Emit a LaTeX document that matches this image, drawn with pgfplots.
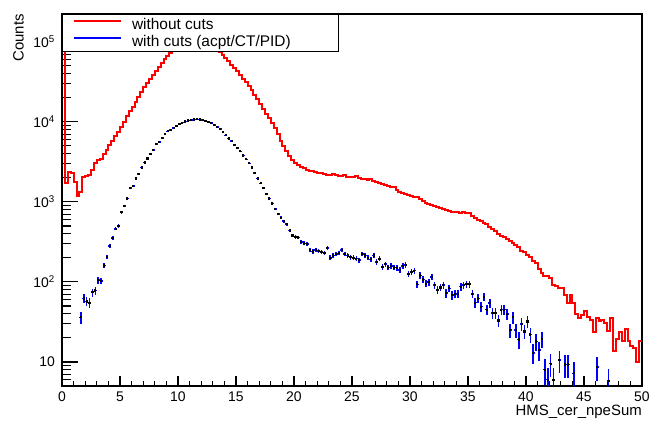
\documentclass[border=0pt]{standalone}
\usepackage{fontspec}
\setmainfont{Liberation Sans}
\usepackage{pgfplots}
\usepackage{pgfplotstable}
\pgfplotsset{compat=1.18}

\pgfplotstableread{
x y
0 150000
0.25 1700
0.5 2340
0.75 2290
1.0 1780
1.25 1190
1.5 1330
1.75 2040
2.0 2090
2.25 2140
2.5 2510
2.75 3090
3.0 3310
3.25 3390
3.5 3980
3.75 4470
4.0 5130
4.25 5750
4.5 6610
4.75 7500
5.0 8510
5.25 10000
5.5 11750
5.75 13500
6.0 15500
6.25 17800
6.5 20400
6.75 23400
7.0 26900
7.25 30200
7.5 34700
7.75 38900
8.0 43600
8.25 49000
8.5 55000
8.75 60300
9.0 66100
9.25 72400
9.5 77600
9.75 83200
10.0 89100
10.25 93300
10.5 97700
10.75 101000
11.0 103500
11.25 104700
11.5 104700
11.75 103500
12.0 101200
12.25 97700
12.5 94400
12.75 90200
13.0 85100
13.25 79400
13.5 74100
13.75 68400
14.0 63100
14.25 57500
14.5 51900
14.75 47300
15.0 42700
15.25 38500
15.5 34700
15.75 31600
16.0 28200
16.25 25100
16.5 21900
16.75 19100
17.0 16600
17.25 14500
17.5 12600
17.75 11200
18.0 9770
18.25 8320
18.5 7080
18.75 5750
19.0 5010
19.25 4370
19.5 3720
19.75 3310
20.0 3020
20.25 2850
20.5 2690
20.75 2630
21.0 2510
21.25 2450
21.5 2400
21.75 2340
22.0 2290
22.25 2260
22.5 2210
22.75 2190
23.0 2160
23.25 2240
23.5 2140
23.75 2110
24.0 2090
24.25 2140
24.5 2070
24.75 2040
25.0 2070
25.25 2090
25.5 1970
25.75 1930
26.0 1910
26.25 1880
26.5 1910
26.75 1820
27.0 1760
27.25 1700
27.5 1660
27.75 1600
28.0 1570
28.25 1530
28.5 1510
28.75 1410
29.0 1330
29.25 1290
29.5 1260
29.75 1220
30.0 1170
30.25 1140
30.5 1150
30.75 1080
31.0 1020
31.25 980
31.5 944
31.75 912
32.0 881
32.25 861
32.5 841
32.75 813
33.0 794
33.25 776
33.5 750
33.75 741
34.0 750
34.25 733
34.5 741
34.75 716
35.0 724
35.25 661
35.5 624
35.75 596
36.0 569
36.25 543
36.5 525
36.75 490
37.0 452
37.25 427
37.5 398
37.75 376
38.0 363
38.25 343
38.5 324
38.75 309
39.0 288
39.25 269
39.5 245
39.75 234
40.0 214
40.25 202
40.5 182
40.75 170
41.0 145
41.25 129
41.5 117
41.75 117
42.0 112
42.25 91
42.5 89
42.75 85
43.0 83
43.25 68
43.5 55
43.75 68
44.0 54
44.25 40
44.5 35
44.75 38
45.0 43
45.25 36
45.5 33
45.75 23.5
46.0 35
46.25 32.5
46.5 33
46.75 31
47.0 24
47.25 35.5
47.5 13.8
47.75 19.4
48.0 23.5
48.25 18.5
48.5 25.7
48.75 18.5
49.0 16
49.25 14.8
49.5 10
49.75 18.5
50.0 18.5
}\redtable

\pgfplotstableread{
x y ey
1.625 36 6
1.875 62 7.9
2.125 57 7.5
2.375 55 7.4
2.625 74 8.6
2.875 78 8.8
3.125 105 10.2
3.375 103 10.1
3.625 160 12.6
3.875 205 14.3
4.125 280 16.7
4.375 355 18.8
4.625 460 21.4
4.875 500 22.4
5.125 740 27.2
5.375 890 29.8
5.625 1100 33.2
5.875 1500 38.7
6.125 1580 39.7
6.375 1950 44.2
6.625 2240 47.3
6.875 2690 51.9
7.125 3090 55.6
7.375 3470 58.9
7.625 3980 63.1
7.875 4470 66.9
8.125 5250 72.5
8.375 5620 75
8.625 6300 79.4
8.875 7080 84.1
9.125 7590 87.1
9.375 7870 88.7
9.625 8410 91.7
9.875 8910 94.4
10.125 9350 96.7
10.375 9750 98.7
10.625 10090 100.4
10.875 10370 101.8
11.125 10570 102.8
11.375 10690 103.4
11.625 10720 103.5
11.875 10670 103.3
12.125 10520 102.6
12.375 10280 101.4
12.625 9950 99.7
12.875 9570 97.8
13.125 9120 95.5
13.375 8610 92.8
13.625 8070 89.8
13.875 7500 86.6
14.125 6760 82.2
14.375 6170 78.5
14.625 5750 75.8
14.875 5130 71.6
15.125 4680 68.4
15.375 4270 65.3
15.625 3800 61.6
15.875 3390 58.2
16.125 3020 55
16.375 2690 51.9
16.625 2290 47.9
16.875 1950 44.2
17.125 1700 41.2
17.375 1480 38.5
17.625 1260 35.5
17.875 1100 33.2
18.125 955 30.9
18.375 813 28.5
18.625 708 26.6
18.875 631 25.1
19.125 575 24
19.375 525 22.9
19.625 437 20.9
19.875 380 19.5
20.125 363 19.1
20.375 359 18.9
20.625 316 17.8
20.875 302 17.4
21.125 295 17.2
21.375 251 15.8
21.625 240 15.5
21.875 251 15.8
22.125 245 15.7
22.375 237 15.4
22.625 229 15.1
22.875 263 16.2
23.125 200 14.1
23.375 214 14.6
23.625 224 15
23.875 229 15.1
24.125 251 15.8
24.375 224 15
24.625 214 14.6
24.875 204 14.3
25.125 200 14.1
25.375 195 14
25.625 186 13.6
25.875 224 15
26.125 214 14.6
26.375 200 14.1
26.625 191 13.8
26.875 214 14.6
27.125 178 13.3
27.375 195 14
27.625 155 12.4
27.875 166 12.9
28.125 151 12.3
28.375 158 12.6
28.625 151 12.3
28.875 148 12.2
29.125 141 11.9
29.375 158 12.6
29.625 162 12.7
29.875 126 11.2
30.125 133 11.5
30.375 138 11.7
30.625 93 9.6
30.875 120 11
31.125 107 10.3
31.375 95 9.7
31.625 100 10
31.875 115 10.7
32.125 91 9.5
32.375 79 8.9
32.625 85 9.2
32.875 91 9.5
33.125 72 8.5
33.375 83 9.1
33.625 68 8.2
33.875 71 8.4
34.125 71 8.4
34.375 87 9.3
34.625 91 9.5
34.875 93 9.6
35.125 93 9.6
35.375 71 8.4
35.625 55 7.4
35.875 62 7.9
36.125 49 7
36.375 65 8.1
36.625 45 6.7
36.875 54 7.3
37.125 41 6.4
37.375 41 6.4
37.625 33 5.7
37.875 45 6.7
38.125 45 6.7
38.375 40 6.3
38.625 25 5
38.875 36 6
39.125 25 5
39.375 19 4.4
39.625 30 5.5
39.875 24 4.9
40.125 32 5.7
40.375 22 4.7
40.625 13 3.6
40.875 18 4.2
41.125 14 3.7
41.375 19.5 4.4
41.625 8 2.8
41.875 6 2.4
42.125 9.5 3.1
42.375 6 2.4
42.875 10.5 3.2
43.375 9.3 3
43.625 9.3 3
44.125 7.2 2.7
46.125 8.7 2.9
47.125 5.8 2.4
}\bluetable

\begin{document}
\begin{tikzpicture}
\begin{axis}[
  at={(0,0)}, anchor=south west,
  scale only axis, width=580bp, height=372bp,
  xmin=0, xmax=50,
  ymode=log, ymin=5.0, ymax=2.22e5,
  axis line style={line width=1.2bp},
  every tick/.style={black, line width=1.2bp},
  tick align=inside, tick pos=left,
  major tick length=16bp, minor tick length=9bp,
  xtick style={/pgfplots/major tick length=10bp, /pgfplots/minor tick length=5bp},
  xtick={0,5,...,50},
  xticklabels={0,5,10,15,20,25,30,35,40,45,50},
  minor x tick num=4,
  ytick={10,100,1000,10000,100000},
  yticklabels={10, 10\textsuperscript{2}, 10\textsuperscript{3}, 10\textsuperscript{4}, 10\textsuperscript{5}},
  minor ytick={6,7,8,9,20,30,40,50,60,70,80,90,200,300,400,500,600,700,800,900,2000,3000,4000,5000,6000,7000,8000,9000,20000,30000,40000,50000,60000,70000,80000,90000,200000},
  xticklabel style={font=\fontsize{14}{16}\selectfont, inner sep=0pt, anchor=base, yshift=-15bp},
  yticklabel style={font=\fontsize{14}{16}\selectfont, inner sep=0pt, anchor=east, xshift=-7bp},
  xlabel={HMS\_cer\_npeSum},
  xlabel style={at={(axis description cs:1,0)}, anchor=base east, yshift=-29bp, inner sep=0pt, font=\fontsize{15}{18}\selectfont},
  ylabel={Counts},
  ylabel style={at={(axis description cs:-0.0655,1)}, anchor=south east, inner sep=0pt, font=\fontsize{15}{18}\selectfont},
  legend style={at={(axis description cs:0,1)}, anchor=north west, draw=black, line width=1bp, fill=white,
    inner xsep=10bp, inner ysep=4bp, row sep=4bp, column sep=10.5bp,
    font=\fontsize{15.5}{18}\selectfont, nodes={inner sep=0pt}},
  legend cell align=left,
]
\addplot[red, line width=2bp, const plot,
  legend image code/.code={\draw[red, line width=2bp] (0bp,4bp) -- (47bp,4bp);}]
  table[x=x, y=y] {\redtable};
\addlegendentry{\makebox[196bp][l]{without cuts}}

\addplot[only marks, mark=square*, mark size=0.6bp, mark options={black, fill=black, line width=0pt},
  legend image code/.code={\draw[blue, line width=2bp] (0bp,4bp) -- (47bp,4bp);},
  error bars/.cd, x dir=both, x fixed=0.125, y dir=both, y explicit, error mark=none,
  error bar style={blue, line width=1.6bp}]
  table[x=x, y=y, y error=ey] {\bluetable};
\addlegendentry{\makebox[196bp][l]{with cuts (acpt/CT/PID)}}
\end{axis}
\pgfresetboundingbox
\path[use as bounding box] (-62bp,-35bp) rectangle (591bp,386bp);
\end{tikzpicture}
\end{document}
